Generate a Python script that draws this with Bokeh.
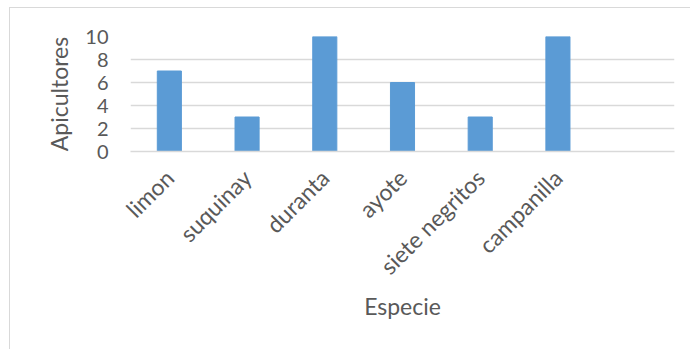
import math
from bokeh.plotting import figure
from bokeh.models import Range1d, FixedTicker
from bokeh.embed import file_html
from bokeh.resources import INLINE

categories = ["limon", "suquinay", "duranta", "ayote", "siete negritos", "campanilla"]
apicultores = [7, 3, 10, 6, 3, 10]
n_slots = 7  # Excel leaves one empty slot at the right
y_ticks = [0, 2, 4, 6, 8, 10]

xs = list(range(len(categories)))

p = figure(width=681, height=342, output_backend="svg", toolbar_location=None,
           x_range=Range1d(-0.5, n_slots - 0.5), y_range=Range1d(0, 10),
           min_border_left=120, min_border_right=17, min_border_top=28,
           min_border_bottom=199)
p.margin = (7, 0, 0, 9)
p.styles = {"border-left": "1.5px solid #d9d9d9", "border-top": "1.5px solid #d9d9d9"}

p.vbar(x=xs, top=apicultores, width=0.31, bottom=0, fill_color="#5b9bd5",
       line_color="#5b9bd5")

p.outline_line_color = None
p.xgrid.visible = False
p.ygrid.grid_line_color = "#d9d9d9"
p.ygrid.grid_line_width = 1.5
p.ygrid.ticker = FixedTicker(ticks=y_ticks)

p.yaxis.ticker = FixedTicker(ticks=y_ticks)
p.yaxis.axis_line_color = None
p.yaxis.major_tick_line_color = None
p.yaxis.minor_tick_line_color = None
p.yaxis.major_label_text_font = "Lato"
p.yaxis.major_label_text_font_size = "20px"
p.yaxis.major_label_text_color = "#595959"
p.yaxis.major_label_standoff = 16
p.yaxis.axis_label = "Apicultores"
p.yaxis.axis_label_text_font = "Lato"
p.yaxis.axis_label_text_font_size = "23px"
p.yaxis.axis_label_text_font_style = "normal"
p.yaxis.axis_label_text_color = "#595959"
p.yaxis.axis_label_standoff = 9

p.xaxis.ticker = FixedTicker(ticks=xs)
p.xaxis.major_label_overrides = {i: c for i, c in zip(xs, categories)}
p.xaxis.major_label_orientation = math.pi / 4
p.xaxis.axis_line_color = "#d9d9d9"
p.xaxis.axis_line_width = 1.5
p.xaxis.major_tick_line_color = None
p.xaxis.minor_tick_line_color = None
p.xaxis.major_label_text_font = "Lato"
p.xaxis.major_label_text_font_size = "23px"
p.xaxis.major_label_text_color = "#595959"
p.xaxis.major_label_standoff = 16
p.xaxis.axis_label = "Especie"
p.xaxis.axis_label_text_font = "Lato"
p.xaxis.axis_label_text_font_size = "23px"
p.xaxis.axis_label_text_font_style = "normal"
p.xaxis.axis_label_text_color = "#595959"
p.xaxis.axis_label_standoff = 0

open("out.html", "w").write(file_html(p, INLINE))
